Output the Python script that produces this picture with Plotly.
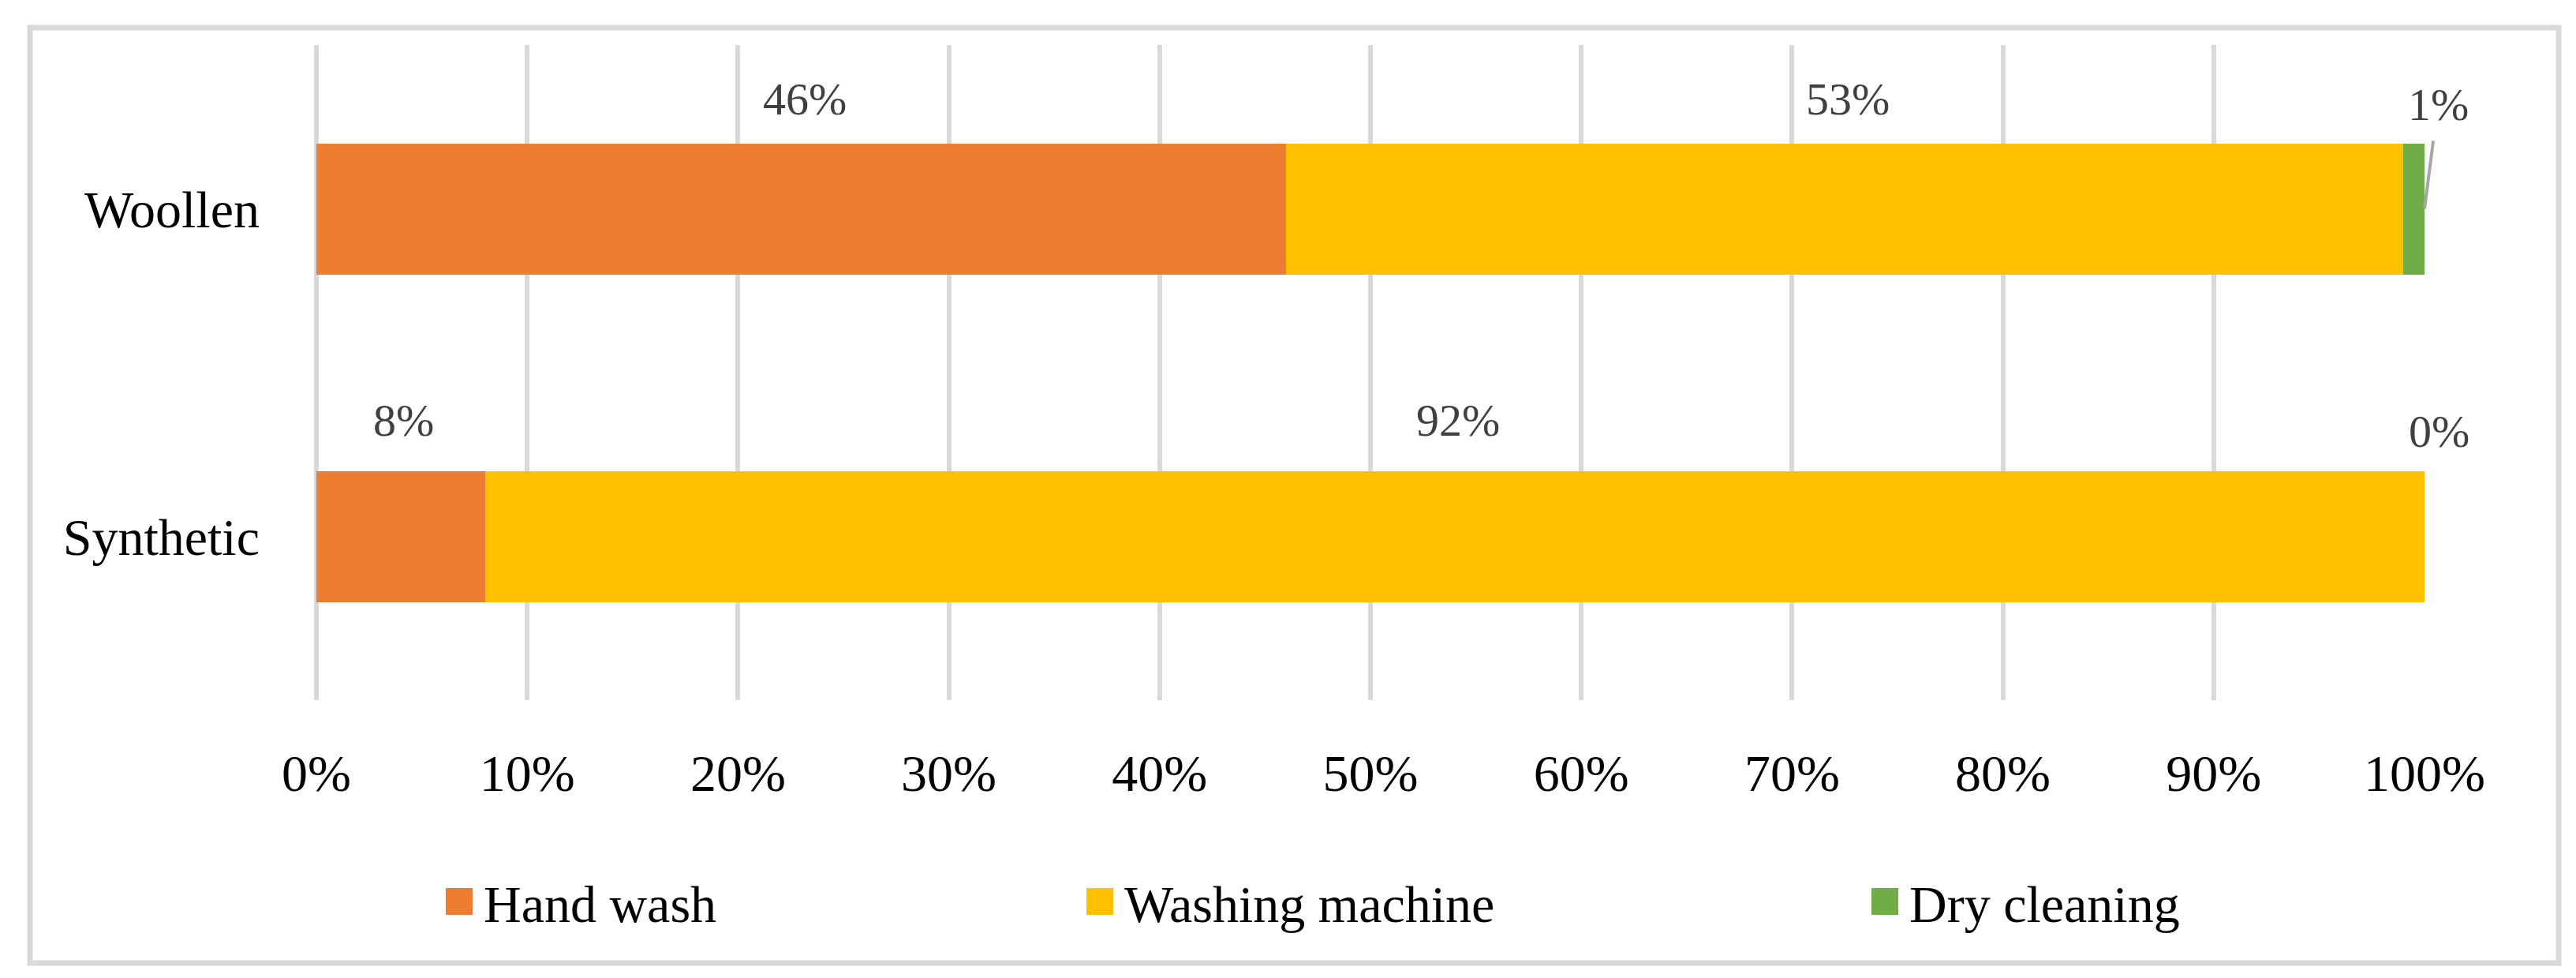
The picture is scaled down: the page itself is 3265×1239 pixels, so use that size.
import plotly.graph_objects as go

# ---------------- data ----------------
categories = ["Woollen", "Synthetic"]
series_names = ["Hand wash", "Washing machine", "Dry cleaning"]
hand_wash = [46, 8]
washing_machine = [53, 92]
dry_cleaning = [1, 0]
series_values = [hand_wash, washing_machine, dry_cleaning]
series_colors = ["#ED7D31", "#FFC000", "#70AD47"]
x_ticks = [0, 10, 20, 30, 40, 50, 60, 70, 80, 90, 100]
x_tick_labels = ["0%", "10%", "20%", "30%", "40%", "50%", "60%", "70%", "80%", "90%", "100%"]

# ---------------- geometry (pixels) ----------------
W, H = 3265, 1239
ML, MR, MT, MB = 393, 200, 49, 360
PW = W - ML - MR
PH = H - MT - MB


def px_x(px):
    return (px - ML) / PW


def px_y(py):
    return 1 - (py - MT) / PH


FONT = "Liberation Serif"
LABEL_FONT = dict(family=FONT, size=58, color="#404040")

fig = go.Figure()
legend_ids = ["legend", "legend2", "legend3"]
for name, vals, col, lg in zip(series_names, series_values, series_colors, legend_ids):
    fig.add_trace(go.Bar(
        y=categories, x=vals, name=name, orientation="h",
        marker=dict(color=col, line=dict(width=0)),
        legend=lg, hoverinfo="x+name",
    ))

# data labels above each segment
annotations = []
for ci, cat in enumerate(categories):
    start = 0
    for si, vals in enumerate(series_values):
        v = vals[ci]
        center = start + v / 2
        start += v
        label = f"{v}%"
        if si == 2 and v > 0:
            # dry-cleaning label with leader line
            annotations.append(dict(
                x=start, y=cat, xref="x", yref="y", text=label,
                showarrow=True, arrowhead=0, arrowwidth=4, arrowcolor="#A6A6A6",
                ax=17, ay=-132, startstandoff=12, standoff=0,
                font=LABEL_FONT,
            ))
        elif si == 2:
            annotations.append(dict(
                x=start, y=cat, xref="x", yref="y", text=label,
                showarrow=False, xshift=18, yshift=133, yanchor="middle",
                font=LABEL_FONT,
            ))
        else:
            annotations.append(dict(
                x=center, y=cat, xref="x", yref="y", text=label,
                showarrow=False, xshift=4, yshift=139 if ci == 0 else 147,
                yanchor="middle", font=LABEL_FONT,
            ))

legend_common = dict(
    orientation="h", xanchor="left", yanchor="middle",
    font=dict(family=FONT, size=66, color="#000000"),
    bgcolor="rgba(0,0,0,0)", borderwidth=0, itemwidth=52,
)
legend_y = px_y(1134)

fig.update_layout(
    width=W, height=H,
    margin=dict(l=ML, r=MR, t=MT, b=MB, autoexpand=False),
    paper_bgcolor="white", plot_bgcolor="white",
    barmode="stack", bargap=0.6,
    showlegend=True,
    legend=dict(x=px_x(543), y=legend_y, **legend_common),
    legend2=dict(x=px_x(1355), y=legend_y, **legend_common),
    legend3=dict(x=px_x(2350), y=legend_y, **legend_common),
    xaxis=dict(
        range=[0, 100], tickmode="array", tickvals=x_ticks, ticktext=x_tick_labels,
        showgrid=True, gridcolor="#D9D9D9", gridwidth=6,
        zeroline=True, zerolinecolor="#D9D9D9", zerolinewidth=6,
        showline=False, ticks="", ticklabelstandoff=48,
        tickfont=dict(family=FONT, size=66, color="#000000"),
        automargin=False, fixedrange=True,
    ),
    yaxis=dict(
        autorange="reversed", showgrid=False, zeroline=False, showline=False,
        ticks="", ticklabelstandoff=71,
        tickfont=dict(family=FONT, size=66, color="#000000"),
        automargin=False, fixedrange=True,
    ),
    annotations=annotations,
    shapes=[dict(
        type="rect", xref="paper", yref="paper", layer="below",
        x0=px_x(30), x1=px_x(3235), y0=px_y(1212), y1=px_y(27),
        line=dict(color="#D9D9D9", width=7), fillcolor="rgba(0,0,0,0)",
    )],
)

post_script = """
var gd = document.getElementById('{plot_id}');
function bigLegendSquares(){
  gd.querySelectorAll('.legendpoints path').forEach(function(p){
    p.setAttribute('d','M17,17H-17V-17H17Z');
  });
}
bigLegendSquares();
gd.on('plotly_afterplot', bigLegendSquares);
"""

fig.write_html("out.html", config={"displayModeBar": False}, post_script=post_script)
